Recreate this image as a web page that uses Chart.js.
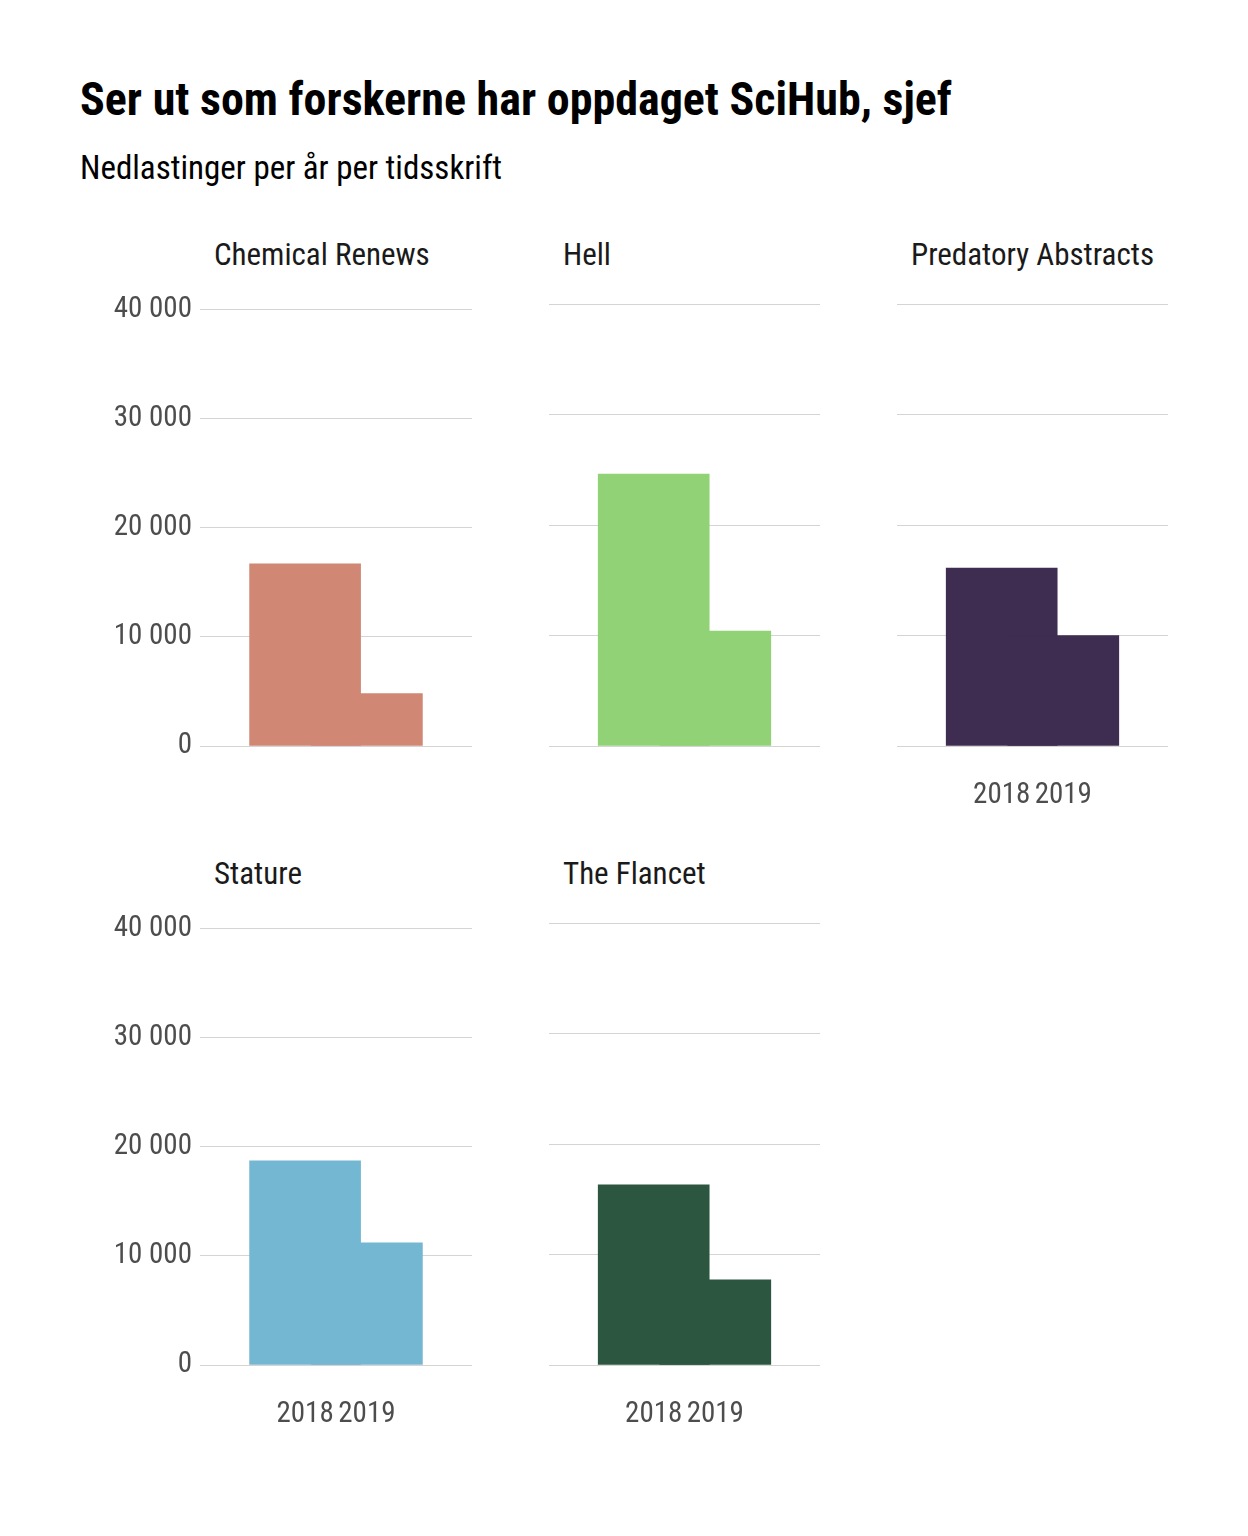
<!DOCTYPE html>
<html>
<head>
<meta charset="utf-8">
<script src="https://cdn.jsdelivr.net/npm/chart.js@4/dist/chart.umd.min.js"></script>
<style>
  body { margin: 0; background: #fff; font-family: "Roboto Condensed", "Liberation Sans Narrow", Roboto, sans-serif; }
  #wrap { position: relative; width: 1248px; height: 1536px; }
  .t { position: absolute; color: #000; white-space: nowrap; }
  canvas { position: absolute; }
</style>
</head>
<body>
<div id="wrap">
  <div class="t" style="left:80px;top:72px;font-size:46px;font-weight:bold;">Ser ut som forskerne har oppdaget SciHub, sjef</div>
  <div class="t" style="left:80px;top:148px;font-size:33px;">Nedlastinger per år per tidsskrift</div>
</div>
<script>
const years = ['2018', '2019'];
const journals = ['Chemical Renews', 'Hell', 'Predatory Abstracts', 'Stature', 'The Flancet'];
const downloads = [
    [16700, 4800],
    [24600, 10400],
    [16100, 10000],
    [18700, 11200],
    [16300, 7700]
];
const colors = ['#d08875', '#90d275', '#3f2d51', '#74b7d2', '#2d5640'];
const yTicks = [0, 10000, 20000, 30000, 40000];

// panel placement: chart area left/right/top, whether y labels and x labels show
const panels = [
    { left: 200, right: 472, top: 304, yLab: true,  xLab: false },
    { left: 549, right: 820, top: 304, yLab: false, xLab: false },
    { left: 897, right: 1168, top: 304, yLab: false, xLab: true },
    { left: 200, right: 472, top: 923, yLab: true,  xLab: true },
    { left: 549, right: 820, top: 923, yLab: false, xLab: true }
];

const wrap = document.getElementById('wrap');
const fmt = v => v.toString().replace(/\B(?=(\d{3})+(?!\d))/g, ' ');
const areaH = 442, padTop = 20, xAxisH = 60, yAxisW = 140;

journals.forEach((name, i) => {
    const p = panels[i];
    const yw = p.yLab ? yAxisW : 0;

    const title = document.createElement('div');
    title.className = 't';
    title.style.cssText = `left:${p.left + 14}px;top:${p.top - 68}px;font-size:31px;color:#1a1a1a;`;
    title.textContent = name;
    wrap.appendChild(title);

    const canvas = document.createElement('canvas');
    const w = p.right - p.left + yw;
    const h = padTop + areaH + xAxisH;
    canvas.style.left = (p.left - yw) + 'px';
    canvas.style.top = (p.top - padTop) + 'px';
    canvas.style.width = w + 'px';
    canvas.style.height = h + 'px';
    wrap.appendChild(canvas);

    new Chart(canvas.getContext('2d'), {
        type: 'bar',
        data: {
            datasets: [{
                data: years.map((y, k) => ({ x: k + 1, y: downloads[i][k] })),
                backgroundColor: colors[i],
                barThickness: 111
            }]
        },
        options: {
            responsive: false,
            maintainAspectRatio: false,
            animation: false,
            layout: { padding: { top: padTop, left: 0, right: 0, bottom: 0 } },
            plugins: { legend: { display: false }, tooltip: { enabled: false } },
            scales: {
                x: {
                    type: 'linear',
                    min: 0.4,
                    max: 2.6,
                    afterBuildTicks: s => { s.ticks = years.map((y, k) => ({ value: k + 1 })); },
                    afterFit: s => { s.height = xAxisH; },
                    grid: { display: false },
                    border: { display: false },
                    ticks: {
                        display: p.xLab,
                        padding: 24,
                        color: '#4d4d4d',
                        font: { size: 29, family: '"Roboto Condensed", "Liberation Sans Narrow", Roboto, sans-serif' },
                        callback: v => years[v - 1]
                    }
                },
                y: {
                    min: 0,
                    max: 40000,
                    afterBuildTicks: s => { s.ticks = yTicks.map(v => ({ value: v })); },
                    afterFit: s => { s.width = yw; },
                    grid: { color: '#d4d4d4', lineWidth: 1, drawTicks: false },
                    border: { display: false },
                    ticks: {
                        display: p.yLab,
                        padding: 8,
                        color: '#4d4d4d',
                        font: { size: 29, family: '"Roboto Condensed", "Liberation Sans Narrow", Roboto, sans-serif' },
                        callback: v => fmt(v)
                    }
                }
            }
        }
    });
});
</script>
</body>
</html>
